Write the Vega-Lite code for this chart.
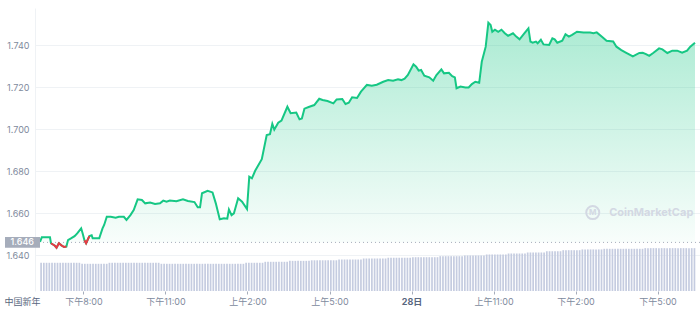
{
"$schema":"https://vega.github.io/schema/vega-lite/v6.json",
"width":665,"height":283,
"autosize":"none",
"padding":{"left":35,"top":8,"right":0,"bottom":20},
"background":"white",
"config":{"view":{"stroke":null},"font":"Inter, 'Noto Sans CJK SC', sans-serif"},
"datasets":{
"price":[{"t":18.41,"p":1.6463},{"t":18.475,"p":1.6484},{"t":18.775,"p":1.6484},{"t":18.811,"p":1.6456},{"t":18.955,"p":1.6444},{"t":19.015,"p":1.6435},{"t":19.099,"p":1.6456},{"t":19.195,"p":1.6446},{"t":19.291,"p":1.6438},{"t":19.375,"p":1.644},{"t":19.435,"p":1.6471},{"t":19.556,"p":1.648},{"t":19.676,"p":1.649},{"t":19.772,"p":1.6503},{"t":19.916,"p":1.6527},{"t":19.976,"p":1.65},{"t":20.036,"p":1.647},{"t":20.096,"p":1.6456},{"t":20.216,"p":1.649},{"t":20.3,"p":1.6494},{"t":20.336,"p":1.648},{"t":20.577,"p":1.648},{"t":20.697,"p":1.6527},{"t":20.757,"p":1.6543},{"t":20.853,"p":1.6582},{"t":20.997,"p":1.6582},{"t":21.177,"p":1.6578},{"t":21.297,"p":1.6582},{"t":21.477,"p":1.6582},{"t":21.574,"p":1.6567},{"t":21.718,"p":1.659},{"t":21.838,"p":1.6614},{"t":21.982,"p":1.6665},{"t":22.138,"p":1.6662},{"t":22.258,"p":1.6646},{"t":22.438,"p":1.665},{"t":22.619,"p":1.6643},{"t":22.799,"p":1.6646},{"t":22.919,"p":1.6659},{"t":23.039,"p":1.6654},{"t":23.159,"p":1.6659},{"t":23.399,"p":1.6656},{"t":23.64,"p":1.6665},{"t":23.82,"p":1.6657},{"t":24.06,"p":1.6652},{"t":24.18,"p":1.6627},{"t":24.264,"p":1.6627},{"t":24.336,"p":1.6694},{"t":24.541,"p":1.6706},{"t":24.721,"p":1.6698},{"t":24.841,"p":1.6646},{"t":24.985,"p":1.657},{"t":25.141,"p":1.6575},{"t":25.261,"p":1.6573},{"t":25.321,"p":1.6617},{"t":25.417,"p":1.659},{"t":25.502,"p":1.6598},{"t":25.658,"p":1.667},{"t":25.802,"p":1.6654},{"t":25.982,"p":1.6619},{"t":26.065,"p":1.6773},{"t":26.162,"p":1.6765},{"t":26.281,"p":1.6801},{"t":26.523,"p":1.6856},{"t":26.703,"p":1.6971},{"t":26.822,"p":1.6975},{"t":26.908,"p":1.7024},{"t":26.98,"p":1.6997},{"t":27.124,"p":1.703},{"t":27.243,"p":1.704},{"t":27.459,"p":1.7106},{"t":27.578,"p":1.7075},{"t":27.784,"p":1.7078},{"t":27.903,"p":1.7046},{"t":27.989,"p":1.705},{"t":28.083,"p":1.7097},{"t":28.263,"p":1.7106},{"t":28.443,"p":1.7114},{"t":28.624,"p":1.7144},{"t":28.746,"p":1.7138},{"t":28.926,"p":1.7133},{"t":29.142,"p":1.7122},{"t":29.261,"p":1.7141},{"t":29.467,"p":1.7143},{"t":29.586,"p":1.7119},{"t":29.705,"p":1.7125},{"t":29.827,"p":1.7151},{"t":30.007,"p":1.7148},{"t":30.151,"p":1.7178},{"t":30.368,"p":1.721},{"t":30.548,"p":1.7206},{"t":30.728,"p":1.7211},{"t":30.966,"p":1.7225},{"t":31.146,"p":1.7233},{"t":31.326,"p":1.723},{"t":31.506,"p":1.7237},{"t":31.629,"p":1.7233},{"t":31.748,"p":1.724},{"t":31.867,"p":1.7257},{"t":32.072,"p":1.7308},{"t":32.169,"p":1.7297},{"t":32.263,"p":1.7278},{"t":32.35,"p":1.7281},{"t":32.468,"p":1.7254},{"t":32.649,"p":1.7246},{"t":32.793,"p":1.723},{"t":32.912,"p":1.7257},{"t":33.092,"p":1.7284},{"t":33.189,"p":1.7265},{"t":33.369,"p":1.7268},{"t":33.488,"p":1.7252},{"t":33.586,"p":1.7246},{"t":33.647,"p":1.7194},{"t":33.791,"p":1.7202},{"t":33.971,"p":1.7198},{"t":34.09,"p":1.7198},{"t":34.209,"p":1.7214},{"t":34.332,"p":1.7225},{"t":34.476,"p":1.722},{"t":34.57,"p":1.732},{"t":34.714,"p":1.7392},{"t":34.811,"p":1.7506},{"t":34.894,"p":1.7495},{"t":34.955,"p":1.7463},{"t":35.052,"p":1.7473},{"t":35.171,"p":1.7463},{"t":35.29,"p":1.7473},{"t":35.413,"p":1.7456},{"t":35.532,"p":1.7444},{"t":35.712,"p":1.7456},{"t":35.831,"p":1.744},{"t":35.953,"p":1.7427},{"t":36.133,"p":1.7456},{"t":36.277,"p":1.7479},{"t":36.35,"p":1.7416},{"t":36.432,"p":1.7411},{"t":36.551,"p":1.7416},{"t":36.613,"p":1.7408},{"t":36.732,"p":1.7425},{"t":36.829,"p":1.7403},{"t":37.034,"p":1.74},{"t":37.153,"p":1.7432},{"t":37.236,"p":1.7427},{"t":37.333,"p":1.7411},{"t":37.514,"p":1.742},{"t":37.633,"p":1.7451},{"t":37.755,"p":1.744},{"t":37.874,"p":1.7448},{"t":38.054,"p":1.7463},{"t":38.295,"p":1.746},{"t":38.533,"p":1.7459},{"t":38.656,"p":1.7456},{"t":38.775,"p":1.746},{"t":38.955,"p":1.744},{"t":39.135,"p":1.742},{"t":39.377,"p":1.7417},{"t":39.496,"p":1.7392},{"t":39.676,"p":1.7376},{"t":39.856,"p":1.7363},{"t":40.097,"p":1.7346},{"t":40.335,"p":1.7362},{"t":40.458,"p":1.7363},{"t":40.577,"p":1.7357},{"t":40.696,"p":1.7348},{"t":40.84,"p":1.7362},{"t":41.056,"p":1.7384},{"t":41.178,"p":1.7379},{"t":41.359,"p":1.7362},{"t":41.539,"p":1.7373},{"t":41.719,"p":1.7373},{"t":41.899,"p":1.7363},{"t":42.079,"p":1.7373},{"t":42.198,"p":1.7392},{"t":42.37,"p":1.7411}],
"red":[{"t":18.811,"p":1.6456,"g":1},{"t":18.955,"p":1.6444,"g":1},{"t":19.015,"p":1.6435,"g":1},{"t":19.099,"p":1.6456,"g":1},{"t":19.195,"p":1.6446,"g":1},{"t":19.291,"p":1.6438,"g":1},{"t":19.375,"p":1.644,"g":1},{"t":20.036,"p":1.647,"g":2},{"t":20.096,"p":1.6456,"g":2},{"t":20.216,"p":1.649,"g":2}],
"vol":[{"t":18.45,"v":99.7},{"t":18.55,"v":99.7},{"t":18.65,"v":99.7},{"t":18.75,"v":99.7},{"t":18.85,"v":99.7},{"t":18.95,"v":99.7},{"t":19.05,"v":99.7},{"t":19.15,"v":99.7},{"t":19.25,"v":99.7},{"t":19.35,"v":99.7},{"t":19.45,"v":99.7},{"t":19.55,"v":99.7},{"t":19.65,"v":99.7},{"t":19.75,"v":99.7},{"t":19.85,"v":99.7},
{"t":19.95,"v":96.1},{"t":20.05,"v":96.1},{"t":20.15,"v":96.1},{"t":20.25,"v":96.1},{"t":20.35,"v":96.1},{"t":20.45,"v":96.1},{"t":20.55,"v":96.1},{"t":20.65,"v":96.1},{"t":20.75,"v":96.1},{"t":20.85,"v":96.1},
{"t":20.95,"v":99.7},{"t":21.05,"v":99.7},{"t":21.15,"v":99.7},{"t":21.25,"v":99.7},{"t":21.35,"v":99.7},{"t":21.45,"v":99.7},{"t":21.55,"v":99.7},{"t":21.65,"v":99.7},{"t":21.75,"v":99.7},{"t":21.85,"v":99.7},{"t":21.95,"v":99.7},{"t":22.05,"v":99.7},{"t":22.15,"v":99.7},{"t":22.25,"v":99.7},{"t":22.35,"v":99.7},{"t":22.45,"v":99.7},{"t":22.55,"v":99.7},{"t":22.65,"v":99.7},{"t":22.75,"v":99.7},
{"t":22.85,"v":96.1},{"t":22.95,"v":96.1},{"t":23.05,"v":96.1},{"t":23.15,"v":96.1},{"t":23.25,"v":96.1},{"t":23.35,"v":96.1},{"t":23.45,"v":96.1},{"t":23.55,"v":96.1},{"t":23.65,"v":96.1},{"t":23.75,"v":96.1},{"t":23.85,"v":96.1},{"t":23.95,"v":96.1},{"t":24.05,"v":96.1},{"t":24.15,"v":96.1},{"t":24.25,"v":96.1},{"t":24.35,"v":96.1},{"t":24.45,"v":96.1},{"t":24.55,"v":96.1},{"t":24.65,"v":96.1},{"t":24.75,"v":96.1},{"t":24.85,"v":96.1},{"t":24.95,"v":96.1},{"t":25.05,"v":96.1},{"t":25.15,"v":96.1},{"t":25.25,"v":96.1},{"t":25.35,"v":96.1},{"t":25.45,"v":96.1},{"t":25.55,"v":96.1},{"t":25.65,"v":96.1},{"t":25.75,"v":96.1},{"t":25.85,"v":96.1},
{"t":25.95,"v":99.7},{"t":26.05,"v":99.7},{"t":26.15,"v":99.7},{"t":26.25,"v":99.7},{"t":26.35,"v":99.7},{"t":26.45,"v":99.7},{"t":26.55,"v":99.7},
{"t":26.65,"v":103.2},{"t":26.75,"v":103.2},{"t":26.85,"v":103.2},{"t":26.95,"v":103.2},{"t":27.05,"v":103.2},{"t":27.15,"v":103.2},{"t":27.25,"v":103.2},{"t":27.35,"v":103.2},{"t":27.45,"v":103.2},
{"t":27.55,"v":106.5},{"t":27.65,"v":106.5},{"t":27.75,"v":106.5},{"t":27.85,"v":106.5},{"t":27.95,"v":106.5},{"t":28.05,"v":106.5},{"t":28.15,"v":106.5},{"t":28.25,"v":106.5},
{"t":28.35,"v":108.5},{"t":28.45,"v":108.5},{"t":28.55,"v":108.5},{"t":28.65,"v":108.5},{"t":28.75,"v":108.5},{"t":28.85,"v":108.5},{"t":28.95,"v":108.5},{"t":29.05,"v":108.5},{"t":29.15,"v":108.5},{"t":29.25,"v":108.5},
{"t":29.35,"v":111.3},{"t":29.45,"v":111.3},{"t":29.55,"v":111.3},{"t":29.65,"v":111.3},{"t":29.75,"v":111.3},{"t":29.85,"v":111.3},{"t":29.95,"v":111.3},{"t":30.05,"v":111.3},{"t":30.15,"v":111.3},
{"t":30.25,"v":114.9},{"t":30.35,"v":114.9},{"t":30.45,"v":114.9},{"t":30.55,"v":114.9},{"t":30.65,"v":114.9},{"t":30.75,"v":114.9},{"t":30.85,"v":114.9},{"t":30.95,"v":114.9},{"t":31.05,"v":114.9},
{"t":31.15,"v":117.5},{"t":31.25,"v":117.5},{"t":31.35,"v":117.5},{"t":31.45,"v":117.5},{"t":31.55,"v":117.5},{"t":31.65,"v":117.5},{"t":31.75,"v":117.5},{"t":31.85,"v":117.5},{"t":31.95,"v":117.5},
{"t":32.05,"v":119.4},{"t":32.15,"v":119.4},{"t":32.25,"v":119.4},{"t":32.35,"v":119.4},{"t":32.45,"v":119.4},{"t":32.55,"v":119.4},{"t":32.65,"v":119.4},{"t":32.75,"v":119.4},{"t":32.85,"v":119.4},{"t":32.95,"v":119.4},
{"t":33.05,"v":123.0},{"t":33.15,"v":123.0},{"t":33.25,"v":123.0},{"t":33.35,"v":123.0},{"t":33.45,"v":123.0},{"t":33.55,"v":123.0},{"t":33.65,"v":123.0},{"t":33.75,"v":123.0},{"t":33.85,"v":123.0},
{"t":33.95,"v":125.5},{"t":34.05,"v":125.5},{"t":34.15,"v":125.5},{"t":34.25,"v":125.5},{"t":34.35,"v":125.5},{"t":34.45,"v":125.5},{"t":34.55,"v":125.5},{"t":34.65,"v":125.5},
{"t":34.75,"v":129.0},{"t":34.85,"v":129.0},{"t":34.95,"v":129.0},{"t":35.05,"v":129.0},{"t":35.15,"v":129.0},{"t":35.25,"v":129.0},{"t":35.35,"v":129.0},{"t":35.45,"v":129.0},
{"t":35.55,"v":132.5},{"t":35.65,"v":132.5},{"t":35.75,"v":132.5},{"t":35.85,"v":132.5},{"t":35.95,"v":132.5},{"t":36.05,"v":132.5},{"t":36.15,"v":132.5},
{"t":36.25,"v":136.1},{"t":36.35,"v":136.1},{"t":36.45,"v":136.1},{"t":36.55,"v":136.1},{"t":36.65,"v":136.1},{"t":36.75,"v":136.1},{"t":36.85,"v":136.1},
{"t":36.95,"v":140.5},{"t":37.05,"v":140.5},{"t":37.15,"v":140.5},{"t":37.25,"v":140.5},{"t":37.35,"v":140.5},{"t":37.45,"v":140.5},
{"t":37.55,"v":144.2},{"t":37.65,"v":144.2},{"t":37.75,"v":144.2},{"t":37.85,"v":144.2},{"t":37.95,"v":144.2},{"t":38.05,"v":144.2},{"t":38.15,"v":144.2},
{"t":38.25,"v":147.0},{"t":38.35,"v":147.0},{"t":38.45,"v":147.0},{"t":38.55,"v":147.0},{"t":38.65,"v":147.0},{"t":38.75,"v":147.0},{"t":38.85,"v":147.0},{"t":38.95,"v":147.0},
{"t":39.05,"v":149.1},{"t":39.15,"v":149.1},{"t":39.25,"v":149.1},{"t":39.35,"v":149.1},{"t":39.45,"v":149.1},{"t":39.55,"v":149.1},{"t":39.65,"v":149.1},{"t":39.75,"v":149.1},{"t":39.85,"v":149.1},{"t":39.95,"v":149.1},{"t":40.05,"v":149.1},{"t":40.15,"v":149.1},{"t":40.25,"v":149.1},{"t":40.35,"v":149.1},{"t":40.45,"v":149.1},
{"t":40.55,"v":151.5},{"t":40.65,"v":151.5},{"t":40.75,"v":151.5},{"t":40.85,"v":151.5},{"t":40.95,"v":151.5},{"t":41.05,"v":151.5},{"t":41.15,"v":151.5},{"t":41.25,"v":151.5},{"t":41.35,"v":151.5},{"t":41.45,"v":151.5},{"t":41.55,"v":151.5},{"t":41.65,"v":151.5},{"t":41.75,"v":151.5},{"t":41.85,"v":151.5},{"t":41.95,"v":151.5},{"t":42.05,"v":151.5},{"t":42.15,"v":151.5},{"t":42.25,"v":151.5},{"t":42.35,"v":151.5}]
},
"layer":[
{"data":{"name":"vol"},
 "mark":{"type":"bar","size":1.7,"color":"#c5cce0"},
 "encoding":{
  "x":{"field":"t","type":"quantitative","scale":{"domain":[18.41,42.37],"nice":false,"zero":false},
   "axis":{"values":[18.41,20,23,26,29,32,35,38,41],"title":null,"grid":false,"domain":false,"tickSize":3,
    "tickColor":{"condition":{"test":"datum.value < 19","value":"transparent"},"value":"#a6adbb"},
    "labelExpr":"datum.value < 19 ? '中国新年' : datum.value == 20 ? '下午8:00' : datum.value == 23 ? '下午11:00' : datum.value == 26 ? '上午2:00' : datum.value == 29 ? '上午5:00' : datum.value == 32 ? '28日' : datum.value == 35 ? '上午11:00' : datum.value == 38 ? '下午2:00' : '下午5:00'",
    "labelAlign":{"condition":{"test":"datum.value < 19","value":"right"},"value":"center"},
    "labelFontWeight":{"condition":{"test":"datum.value == 32","value":"bold"},"value":"normal"},
    "labelColor":{"condition":{"test":"datum.value < 19 || datum.value == 32","value":"#58667e"},"value":"#808a9d"},
    "labelFontSize":9,"labelPadding":3,"labelFlush":false,"labelOverlap":false,"labelBound":false}},
  "y":{"field":"v","type":"quantitative","scale":{"domain":[0,1000],"nice":false,"zero":true},"axis":null}
 }},
{"layer":[
 {"data":{"name":"price"},
  "mark":{"type":"area","color":{"gradient":"linear","x1":0,"y1":0,"x2":0,"y2":1,"stops":[{"offset":0,"color":"rgba(22,199,132,0.36)"},{"offset":1,"color":"rgba(22,199,132,0.02)"}]}},
  "encoding":{
   "x":{"field":"t","type":"quantitative"},
   "y":{"field":"p","type":"quantitative","scale":{"domain":[1.62286,1.75762],"nice":false,"zero":false},
    "axis":{"values":[1.64,1.66,1.68,1.7,1.72,1.74],"format":".3f","title":null,"grid":true,"gridColor":"#eff2f5","domain":true,"domainColor":"#eff2f5","ticks":false,"labelPadding":6,"labelFontSize":9,"labelColor":"#808a9d"}},
   "y2":{"datum":1.646}
  }},
 {"data":{"values":[{}]},"mark":{"type":"rule","color":"#a6adbb","strokeDash":[1,3],"strokeWidth":1},
  "encoding":{"y":{"datum":1.646}}},
 {"data":{"name":"price"},"mark":{"type":"line","color":"#16c784","strokeWidth":2},
  "encoding":{"x":{"field":"t","type":"quantitative"},"y":{"field":"p","type":"quantitative"}}},
 {"data":{"name":"red"},"mark":{"type":"line","color":"#ea3943","strokeWidth":2},
  "encoding":{"x":{"field":"t","type":"quantitative"},"y":{"field":"p","type":"quantitative"},"detail":{"field":"g","type":"nominal"}}},
 {"data":{"values":[{}]},"mark":{"type":"point","shape":"M-2,-0.31H0V0.31H-2Z","size":1225,"filled":true,"color":"#a6adbb","opacity":1,"strokeWidth":0},
  "encoding":{"x":{"datum":18.41},"y":{"datum":1.646}}},
 {"data":{"values":[{}]},"mark":{"type":"text","text":"1.646","align":"right","baseline":"middle","dx":-6,"fontSize":9,"fontWeight":500,"color":"white"},
  "encoding":{"x":{"datum":18.41},"y":{"datum":1.646}}},
 {"data":{"values":[{}]},"mark":{"type":"point","shape":"circle","size":170,"filled":false,"color":"#d3d8e3","strokeWidth":2,"opacity":1},
  "encoding":{"x":{"datum":38.63},"y":{"datum":1.6602}}},
 {"data":{"values":[{}]},"mark":{"type":"text","text":"M","align":"center","baseline":"middle","fontSize":8,"fontWeight":"bold","color":"#d3d8e3"},
  "encoding":{"x":{"datum":38.63},"y":{"datum":1.6602}}},
 {"data":{"values":[{}]},"mark":{"type":"text","text":"CoinMarketCap","align":"left","baseline":"middle","fontSize":11,"fontWeight":"bold","color":"#d3d8e3"},
  "encoding":{"x":{"datum":39.23},"y":{"datum":1.6601}}}
]}
],
"resolve":{"scale":{"y":"independent"}}
}
